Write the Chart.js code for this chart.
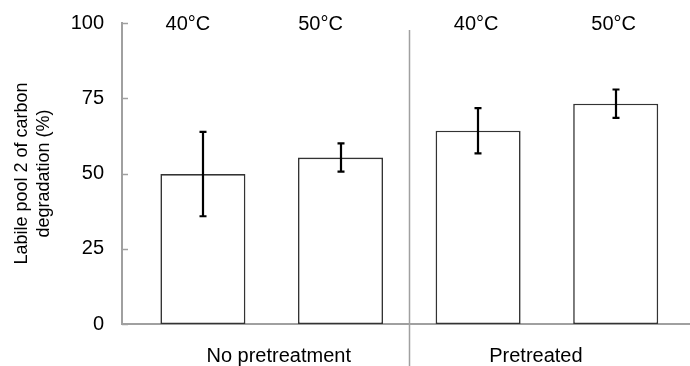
<!DOCTYPE html>
<html><head><meta charset="utf-8">
<script src="https://cdn.jsdelivr.net/npm/chart.js@4"></script>
<style>html,body{margin:0;padding:0;background:#fff}#wrap{width:690px;height:366px}</style>
</head><body><div id="wrap"><canvas id="c" width="690" height="366"></canvas></div>
<script>
const categories = ['40°C', '50°C', '40°C', '50°C'];
const groups = ['No pretreatment', 'Pretreated'];
const values = [49.8, 55.3, 64.2, 73.2];
const errors = [14.0, 4.7, 7.5, 4.7];
const yTicks = [0, 25, 50, 75, 100];
const yTitle = ['Labile pool 2 of carbon', 'degradation (%)'];

const FONT = '"Liberation Sans", Arial, sans-serif';
const AXIS = '#a0a0a0';

const extras = {
  id: 'extras',
  afterDatasetsDraw(chart) {
    const ctx = chart.ctx, xs = chart.scales.x, ys = chart.scales.y, area = chart.chartArea;
    ctx.save();
    // inward tick marks
    ctx.strokeStyle = AXIS; ctx.lineWidth = 1.5;
    yTicks.forEach(v => {
      const y = Math.round(ys.getPixelForValue(v)) + 0.5;
      ctx.beginPath(); ctx.moveTo(area.left, y); ctx.lineTo(area.left + 6, y); ctx.stroke();
    });
    // group divider
    const dx = Math.round(xs.getPixelForValue(1.5)) + 0.5;
    ctx.lineWidth = 1.5;
    ctx.beginPath(); ctx.moveTo(dx, 30); ctx.lineTo(dx, 366); ctx.stroke();
    // error bars
    ctx.strokeStyle = '#000'; ctx.lineWidth = 2.2;
    values.forEach((v, i) => {
      const x = Math.round(xs.getPixelForValue(i));
      const yt = ys.getPixelForValue(v + errors[i]);
      const yb = ys.getPixelForValue(v - errors[i]);
      ctx.beginPath();
      ctx.moveTo(x, yt); ctx.lineTo(x, yb);
      ctx.moveTo(x - 3.5, yt); ctx.lineTo(x + 3.5, yt);
      ctx.moveTo(x - 3.5, yb); ctx.lineTo(x + 3.5, yb);
      ctx.stroke();
    });
    // labels
    ctx.fillStyle = '#000';
    ctx.font = '20px ' + FONT;
    ctx.textAlign = 'center'; ctx.textBaseline = 'alphabetic';
    const topOff = [-15, -20, -2, -2];
    categories.forEach((c, i) => {
      ctx.fillText(c, xs.getPixelForValue(i) + topOff[i], 30);
    });
    const grpOff = [7, -11];
    groups.forEach((g, k) => {
      ctx.fillText(g, xs.getPixelForValue(k * 2 + 0.5) + grpOff[k], 362);
    });
    ctx.restore();
  }
};

new Chart(document.getElementById('c'), {
  type: 'bar',
  data: {
    datasets: [{
      data: values.map((v, i) => ({ x: i, y: v })),
      backgroundColor: '#ffffff',
      borderColor: '#333333',
      borderWidth: 1.6,
      borderSkipped: false,
      barPercentage: 1,
      categoryPercentage: 0.618
    }]
  },
  options: {
    responsive: false,
    animation: false,
    devicePixelRatio: 1,
    layout: { padding: { top: 23, right: 0, bottom: 42, left: 0 } },
    plugins: { legend: { display: false }, tooltip: { enabled: false } },
    scales: {
      x: {
        type: 'linear', min: -0.588, max: 3.54, offset: false,
        afterBuildTicks: s => { s.ticks = categories.map((c, i) => ({ value: i })); },
        grid: { display: false, drawTicks: false },
        border: { display: true, color: AXIS, width: 2 },
        ticks: { display: false }
      },
      y: {
        min: 0, max: 100,
        afterBuildTicks: s => { s.ticks = yTicks.map(v => ({ value: v })); },
        afterFit: s => { s.width = 122; s.paddingTop = 0; s.paddingBottom = 0; },
        grid: { display: false, drawTicks: false },
        border: { display: true, color: AXIS, width: 2 },
        ticks: { font: { family: FONT, size: 20 }, color: '#000', padding: 18 },
        title: {
          display: true, text: yTitle, color: '#000',
          font: { family: FONT, size: 18, lineHeight: 1.22 },
          padding: { top: 11, bottom: 0 }
        }
      }
    }
  },
  plugins: [extras]
});
</script></body></html>
